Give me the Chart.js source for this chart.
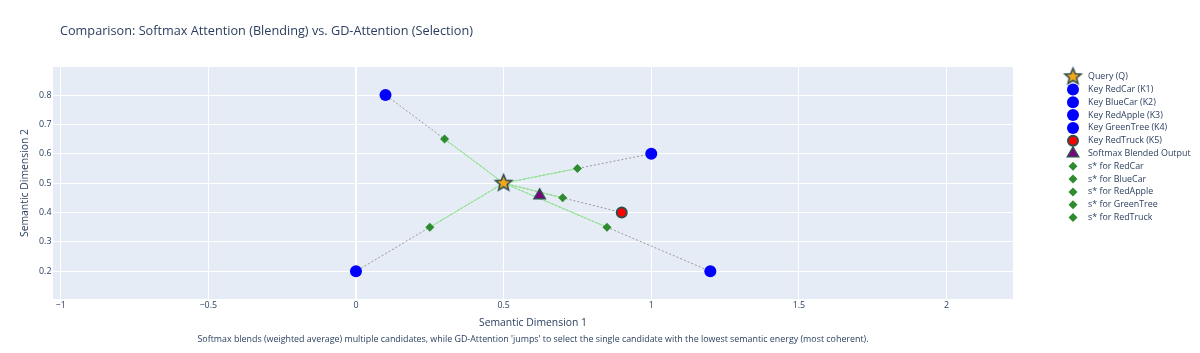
<!DOCTYPE html>
<html>
<head>
<meta charset="utf-8">
<script src="https://cdn.jsdelivr.net/npm/chart.js"></script>
<style>
  html, body { margin: 0; padding: 0; background: #fff; }
  #wrap { position: relative; width: 1200px; height: 353px; font-family: "Open Sans", verdana, arial, sans-serif; color: #2a3f5f; }
  #title { position: absolute; left: 60px; top: 21.5px; font-size: 12.7px; line-height: 17px; white-space: nowrap; }
  #caption { position: absolute; left: 53px; width: 960px; top: 331px; text-align: center; font-size: 8.9px; line-height: 16px; white-space: nowrap; }
  canvas { position: absolute; left: 0; top: 0; }
</style>
</head>
<body>
<div id="wrap">
  <canvas id="myChart" width="1200" height="353"></canvas>
  <div id="title">Comparison: Softmax Attention (Blending) vs. GD-Attention (Selection)</div>
  <div id="caption">Softmax blends (weighted average) multiple candidates, while GD-Attention 'jumps' to select the single candidate with the lowest semantic energy (most coherent).</div>
</div>
<script>
// data
const queryPoint = [0.5, 0.5];
const keyNames = ['RedCar', 'BlueCar', 'RedApple', 'GreenTree', 'RedTruck'];
const keyX = [0.1, 1.0, 0.0, 1.2, 0.9];
const keyY = [0.8, 0.6, 0.2, 0.2, 0.4];
const sStarX = [0.3, 0.75, 0.25, 0.85, 0.7];
const sStarY = [0.65, 0.55, 0.35, 0.35, 0.45];
const blendPoint = [0.622, 0.458];
const selectedKey = 4; // RedTruck
const xTicks = [-1, -0.5, 0, 0.5, 1, 1.5, 2];
const yTicks = [0.2, 0.3, 0.4, 0.5, 0.6, 0.7, 0.8];
const xRange = [-1.026, 2.225];
const yRange = [0.1057, 0.8953];

const FONT = '"Open Sans", verdana, arial, sans-serif';
const TXT = '#2a3f5f';
const OUTLINE = '#2F4F4F';

// filled 5 point star as a point image
function makeStar(outer, inner, fill, stroke, lw) {
  const size = Math.ceil(outer * 2 + lw * 2 + 2);
  const c = document.createElement('canvas');
  c.width = size; c.height = size;
  const g = c.getContext('2d');
  g.beginPath();
  for (let i = 0; i < 10; i++) {
    const r = i % 2 === 0 ? outer : inner;
    const a = -Math.PI / 2 + i * Math.PI / 5;
    const px = size / 2 + r * Math.cos(a), py = size / 2 + r * Math.sin(a);
    if (i === 0) g.moveTo(px, py); else g.lineTo(px, py);
  }
  g.closePath();
  g.fillStyle = fill; g.fill();
  g.lineWidth = lw; g.strokeStyle = stroke; g.lineJoin = 'miter'; g.stroke();
  return c;
}
const starImg = makeStar(8.5, 3.8, '#F5A81C', OUTLINE, 1.6);

const datasets = [];
datasets.push({
  label: 'Query (Q)', inLegend: true,
  data: [{x: queryPoint[0], y: queryPoint[1]}],
  pointStyle: starImg, pointRadius: 9
});
keyNames.forEach((n, i) => {
  const sel = i === selectedKey;
  datasets.push({
    label: 'Key ' + n + ' (K' + (i + 1) + ')', inLegend: true,
    data: [{x: keyX[i], y: keyY[i]}],
    pointStyle: 'circle', pointRadius: sel ? 5 : 6,
    backgroundColor: sel ? '#FF0000' : '#0000FF',
    borderColor: sel ? OUTLINE : '#0000FF', borderWidth: sel ? 2 : 0
  });
});
datasets.push({
  label: 'Softmax Blended Output', inLegend: true,
  data: [{x: blendPoint[0], y: blendPoint[1]}],
  pointStyle: 'triangle', pointRadius: 6.5,
  backgroundColor: '#800080', borderColor: OUTLINE, borderWidth: 1.5
});
keyNames.forEach((n, i) => {
  datasets.push({
    label: 's* for ' + n, inLegend: true,
    data: [{x: sStarX[i], y: sStarY[i]}],
    pointStyle: 'rectRot', pointRadius: 4.5,
    backgroundColor: '#2E8B2E', borderColor: '#2E8B2E', borderWidth: 0
  });
});
// Q -> s* (green) and Q -> K (grey dotted)
keyNames.forEach((n, i) => {
  datasets.push({
    label: 'path ' + n, showLine: true, pointRadius: 0,
    data: [{x: queryPoint[0], y: queryPoint[1]}, {x: sStarX[i], y: sStarY[i]}],
    borderColor: '#90EE90', borderWidth: 1
  });
});
keyNames.forEach((n, i) => {
  datasets.push({
    label: 'link ' + n, showLine: true, pointRadius: 0,
    data: [{x: queryPoint[0], y: queryPoint[1]}, {x: keyX[i], y: keyY[i]}],
    borderColor: '#999999', borderWidth: 1, borderDash: [2, 2]
  });
});

function fmt(v) { return v < 0 ? '\u2212' + Math.abs(v) : String(v); }

const plotBg = {
  id: 'plotBg',
  beforeDraw(chart) {
    const {ctx, chartArea: a} = chart;
    ctx.save();
    ctx.fillStyle = '#E5ECF6';
    ctx.fillRect(a.left, a.top, a.right - a.left, a.bottom - a.top);
    ctx.restore();
  }
};

function drawMarker(ctx, ds, x, y) {
  const st = ds.pointStyle;
  if (typeof st !== 'string') {
    ctx.drawImage(st, x - st.width / 2, y - st.height / 2);
    return;
  }
  const r = ds.pointRadius;
  ctx.beginPath();
  if (st === 'circle') {
    ctx.arc(x, y, r, 0, Math.PI * 2);
  } else if (st === 'triangle') {
    for (let k = 0; k < 3; k++) {
      const a = k * 2 * Math.PI / 3;
      const px = x + Math.sin(a) * r, py = y - Math.cos(a) * r;
      if (k === 0) ctx.moveTo(px, py); else ctx.lineTo(px, py);
    }
  } else if (st === 'rectRot') {
    ctx.moveTo(x - r, y); ctx.lineTo(x, y - r); ctx.lineTo(x + r, y); ctx.lineTo(x, y + r);
  }
  ctx.closePath();
  ctx.fillStyle = ds.backgroundColor; ctx.fill();
  if (ds.borderWidth) { ctx.lineWidth = ds.borderWidth; ctx.strokeStyle = ds.borderColor; ctx.stroke(); }
}

const sideLegend = {
  id: 'sideLegend',
  afterDraw(chart) {
    const ctx = chart.ctx;
    ctx.save();
    ctx.font = '8.9px ' + FONT;
    ctx.textBaseline = 'middle';
    ctx.textAlign = 'left';
    let y = 76.7;
    chart.data.datasets.filter(d => d.inLegend).forEach(ds => {
      drawMarker(ctx, ds, 1073, y);
      ctx.fillStyle = TXT;
      ctx.fillText(ds.label, 1088, y);
      y += 12.8;
    });
    ctx.restore();
  }
};

const ctx = document.getElementById('myChart');
const myChart = new Chart(ctx, {
  type: 'scatter',
  data: { datasets },
  options: {
    responsive: false,
    animation: false,
    devicePixelRatio: 1,
    layout: { padding: { left: 0, top: 67, right: 187, bottom: 14 } },
    plugins: { legend: { display: false }, tooltip: { enabled: false } },
    scales: {
      x: {
        type: 'linear', min: xRange[0], max: xRange[1],
        afterBuildTicks: s => { s.ticks = xTicks.map(v => ({value: v})); },
        afterFit: s => { s.height = 40; },
        grid: { color: '#ffffff', lineWidth: c => (c.tick && c.tick.value === 0 ? 2 : 1), drawTicks: false },
        border: { display: false },
        ticks: { padding: 1.5, color: TXT, font: { family: FONT, size: 8.9 }, callback: v => fmt(v), maxRotation: 0 },
        title: { display: true, text: 'Semantic Dimension 1', color: TXT, font: { family: FONT, size: 10.4 }, padding: { top: 0, bottom: 9.5 } }
      },
      y: {
        type: 'linear', min: yRange[0], max: yRange[1],
        afterBuildTicks: s => { s.ticks = yTicks.map(v => ({value: v})); },
        afterFit: s => { s.width = 53; },
        grid: { color: '#ffffff', lineWidth: 1, drawTicks: false },
        border: { display: false },
        ticks: { padding: 1.5, color: TXT, font: { family: FONT, size: 8.9 }, callback: v => fmt(v) },
        title: { display: true, text: 'Semantic Dimension 2', color: TXT, font: { family: FONT, size: 10.4 }, padding: { top: 18.5, bottom: 0 } }
      }
    }
  },
  plugins: [plotBg, sideLegend]
});
</script>
</body>
</html>
